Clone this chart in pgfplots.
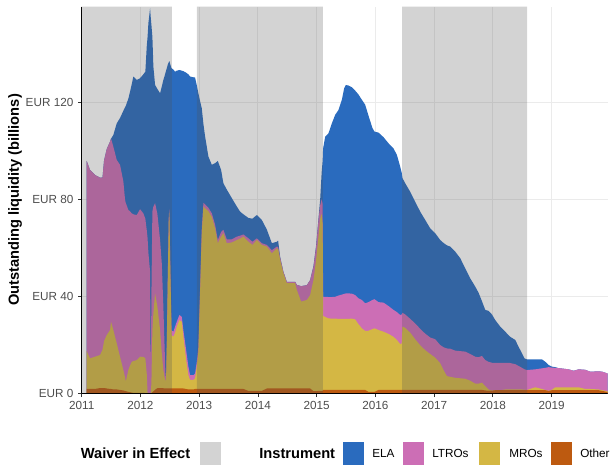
\documentclass[border=0pt]{standalone}
\usepackage{pgfplots}
\pgfplotsset{compat=1.18}
\usepackage{pgfplotstable}
\usepackage{fontspec}
\setmainfont{Liberation Sans}

\definecolor{ela}{RGB}{42,107,190}
\definecolor{ltro}{RGB}{204,110,181}
\definecolor{mro}{RGB}{212,183,68}
\definecolor{other}{RGB}{189,90,16}
\definecolor{waiver}{RGB}{80,80,80}
\definecolor{waiverkey}{RGB}{211,211,211}
\definecolor{gridc}{RGB}{235,235,235}
\definecolor{ticktext}{RGB}{77,77,77}

% Outstanding liquidity by instrument, EUR billions
\pgfplotstableread{
year     other mro  ltro ela
2011.085 1.8 15.6 78.4 0
2011.141 1.8 12.6 77.7 0
2011.227 1.8 13.3 74.9 0
2011.312 2.2 13.6 73.1 0
2011.354 2.2 15.8 71.0 0
2011.380 2.2 19.3 74.5 0
2011.426 2.0 22.0 76.7 0
2011.482 1.8 24.3 77.7 0
2011.499 1.8 27.7 75.5 0
2011.538 1.6 24.5 75.6 4.8
2011.596 1.6 19.0 75.6 15.1
2011.652 1.4 13.7 79.1 19.3
2011.709 1.2 8.4 77.7 29.2
2011.738 1.0 5.5 73.2 38.3
2011.750 0.9 3.9 73.7 40.0
2011.794 0.6 9.0 66.0 45.9
2011.823 0.5 11.0 63.5 49.4
2011.852 0.3 12.7 61.2 53.3
2011.879 0.2 13.1 60.5 56.8
2011.937 0.2 13.5 59.8 55.7
2011.993 0.2 14.9 60.8 54.0
2012.049 0.2 14.8 59.2 57.3
2012.083 0.1 14.4 57.5 60.6
2012.107 0 8.0 59.3 75.7
2012.121 0 0 64.0 83.0
2012.135 0 0 58.0 94.6
2012.164 0 0 50.1 108.7
2012.175 0 0 2.0 153.0
2012.186 0 4.0 36.0 112.0
2012.203 0.5 25.6 48.9 72.0
2012.220 0.8 32.2 44.0 57.7
2012.249 1.5 39.7 37.2 48.7
2012.288 2.1 33.6 38.3 51.5
2012.334 2.1 24.0 37.1 60.5
2012.363 2.1 14.4 37.1 72.9
2012.390 2.1 7.5 26.1 93.5
2012.407 2.0 5.0 15.0 108.5
2012.424 2.0 3.5 3.5 123.0
2012.436 2.0 3.0 0.5 127.5
2012.448 2.0 17.2 2.8 112.0
2012.465 2.0 44.7 1.3 87.5
2012.482 2.0 69.5 1.5 63.5
2012.492 2.0 72.9 1.1 61.0
2012.509 2.0 48.0 2.0 83.5
2012.530 2.0 22.0 2.0 108.0
2012.560 2.0 21.3 2.1 108.1
2012.589 2.0 23.0 2.5 105.1
2012.618 2.0 25.5 2.0 103.5
2012.663 2.0 28.2 2.1 101.0
2012.704 2.0 27.5 2.0 101.5
2012.731 2.0 21.3 2.7 106.8
2012.777 1.8 12.2 4.0 114.2
2012.816 1.6 5.9 3.5 120.5
2012.845 1.6 3.9 2.0 123.1
2012.901 1.6 3.9 2.0 122.8
2012.930 1.8 4.4 2.0 122.0
2012.959 1.8 9.2 2.0 114.0
2012.986 1.8 15.2 2.0 104.7
2013.015 1.8 39.4 1.8 77.5
2013.044 1.8 64.2 2.0 49.5
2013.072 1.8 75.2 1.5 32.5
2013.101 1.8 74.5 1.6 27.9
2013.157 1.8 73.3 1.4 21.1
2013.215 1.8 70.9 1.5 20.0
2013.271 1.8 66.2 1.5 25.4
2013.317 1.8 60.1 1.3 32.6
2013.373 1.8 62.8 1.9 25.6
2013.412 1.8 64.2 1.4 19.2
2013.470 1.8 60.1 1.6 20.5
2013.555 1.8 60.4 1.3 17.0
2013.641 1.8 61.4 1.4 12.4
2013.697 1.8 62.0 1.2 9.9
2013.753 1.8 62.8 0.9 8.3
2013.838 1.0 61.5 1.4 8.4
2013.906 1.0 60.2 1.3 9.5
2013.981 1.0 62.2 0.7 9.6
2014.066 1.0 60.2 0.7 9.6
2014.152 2.0 58.5 0.7 6.3
2014.237 2.0 55.7 1.3 2.9
2014.322 2.0 57.8 0.7 2.0
2014.344 2.0 57.5 0.8 2.7
2014.378 2.0 53.0 1.0 0.3
2014.434 2.0 47.5 0.6 0
2014.492 2.0 43.4 0.6 0
2014.634 2.0 43.4 0.6 0
2014.663 2.0 40.6 2.1 0
2014.736 2.0 35.8 6.4 0
2014.833 2.0 36.5 6.1 0
2014.889 2.0 38.5 6.2 0
2014.946 0.9 45.8 5.5 0.3
2014.991 0.9 54.1 5.5 0.5
2015.031 1.0 63.6 6.9 0.5
2015.060 1.0 71.0 5.5 2.5
2015.085 1.0 73.0 6.0 11.0
2015.102 1.0 69.0 8.0 18.0
2015.110 1.4 30.5 7.9 61.2
2015.145 1.4 30.1 8.3 66.0
2015.201 1.4 29.5 8.8 67.5
2015.259 1.4 29.4 8.9 71.6
2015.315 1.4 29.4 9.0 75.0
2015.371 1.4 29.3 9.6 76.5
2015.429 1.4 29.3 10.0 80.3
2015.469 1.4 29.3 10.3 84.8
2015.497 1.4 29.3 10.5 85.9
2015.542 1.4 29.3 10.5 85.7
2015.600 1.4 29.4 10.3 85.1
2015.656 1.4 29.1 10.0 84.3
2015.712 1.4 27.1 10.7 84.0
2015.770 1.4 25.4 11.7 82.5
2015.826 1.4 24.3 11.4 81.9
2015.882 0.6 25.2 11.8 76.9
2015.951 0.6 25.9 12.0 70.8
2015.985 0.6 26.2 12.0 69.1
2016.053 1.4 24.7 11.5 69.9
2016.138 1.4 24.0 12.0 68.2
2016.223 1.4 23.1 11.5 67.1
2016.308 1.4 21.9 11.1 66.6
2016.366 1.4 20.6 11.5 64.8
2016.422 1.4 18.9 12.0 61.2
2016.448 1.4 19.1 12.0 58.5
2016.462 1.4 26.1 5.7 55.5
2016.508 1.4 25.6 5.5 54.1
2016.593 1.4 23.6 5.7 52.4
2016.678 1.4 20.9 6.5 50.2
2016.763 1.4 18.4 6.8 48.3
2016.848 1.4 16.4 6.8 46.9
2016.934 1.4 14.8 6.8 45.0
2017.019 1.4 13.3 7.6 43.7
2017.104 1.4 11.0 7.5 43.3
2017.160 1.4 8.2 9.4 43.0
2017.218 1.4 5.7 11.4 42.5
2017.274 1.4 5.4 11.6 42.1
2017.360 1.4 5.0 11.2 40.8
2017.445 1.4 4.8 11.2 38.3
2017.530 1.4 4.6 11.2 34.3
2017.615 1.4 3.8 11.0 31.2
2017.700 1.4 2.6 11.1 28.9
2017.756 1.4 2.6 10.9 26.6
2017.814 1.4 3.0 11.0 22.6
2017.871 1.2 1.8 10.7 20.7
2017.927 1.1 0.5 11.4 21.0
2017.985 1.1 0 11.5 19.9
2018.041 1.3 0 11.3 17.6
2018.126 1.3 0 11.3 14.9
2018.211 1.3 0.3 11.0 12.8
2018.296 1.3 0.3 10.9 10.8
2018.382 1.3 0.3 10.4 10.0
2018.438 1.3 0.3 9.7 7.9
2018.496 1.3 0.3 8.9 6.0
2018.540 1.3 0.2 8.4 4.5
2018.581 1.3 0.1 8.2 4.4
2018.722 1.3 1.2 7.4 4.1
2018.836 1.3 0.5 8.5 3.7
2018.893 1.3 0.1 9.1 2.5
2018.949 1.0 0 9.8 0.9
2019.007 1.3 0.2 9.1 0.4
2019.063 1.3 1.2 8.0 0.3
2019.119 1.3 1.2 7.9 0
2019.290 1.3 1.2 7.4 0
2019.375 1.3 1.2 6.8 0
2019.460 1.3 1.2 7.4 0
2019.574 1.3 0.5 7.9 0
2019.659 1.3 0.5 7.1 0
2019.801 1.3 0.3 7.5 0
2019.864 1.0 0.3 7.6 0
2019.954 0.5 0.3 7.4 0
}\liquidity

\begin{document}
\begin{tikzpicture}
\useasboundingbox (-61.3pt,-59pt) rectangle (400.7pt,295pt);
\begin{axis}[
  at={(0,0)}, anchor=south west,
  scale only axis, width=394.4pt, height=290pt,
  xmin=2011, xmax=2019.954, ymin=0, ymax=159.4,
  enlargelimits=false,
  axis lines*=left,
  axis line style={black, line width=0.6pt},
  xtick={2011,2012,2013,2014,2015,2016,2017,2018,2019},
  xticklabels={2011,2012,2013,2014,2015,2016,2017,2018,2019},
  ytick={0,40,80,120},
  yticklabels={EUR 0,EUR 40,EUR 80,EUR 120},
  tick align=outside, major tick length=2.75pt,
  tick style={color=black!80, line width=0.6pt},
  ticklabel style={font=\fontsize{8.8}{10}\selectfont, text=ticktext},
  grid=major, major grid style={gridc, line width=0.8pt},
  clip=true,
]
% cumulative layers, painted from the top of the stack downwards
\addplot[draw=none, fill=ela] table[x=year, y expr=\thisrow{other}+\thisrow{mro}+\thisrow{ltro}+\thisrow{ela}] {\liquidity} \closedcycle;
\addplot[draw=none, fill=ltro] table[x=year, y expr=\thisrow{other}+\thisrow{mro}+\thisrow{ltro}] {\liquidity} \closedcycle;
\addplot[draw=none, fill=mro] table[x=year, y expr=\thisrow{other}+\thisrow{mro}] {\liquidity} \closedcycle;
\addplot[draw=none, fill=other] table[x=year, y=other] {\liquidity} \closedcycle;
% periods with the waiver in effect
\addplot[draw=none, fill=waiver, fill opacity=0.25] coordinates {(2011,0) (2011,159.4) (2012.535,159.4) (2012.535,0)} \closedcycle;
\addplot[draw=none, fill=waiver, fill opacity=0.25] coordinates {(2012.962,0) (2012.962,159.4) (2015.106,159.4) (2015.106,0)} \closedcycle;
\addplot[draw=none, fill=waiver, fill opacity=0.25] coordinates {(2016.455,0) (2016.455,159.4) (2018.584,159.4) (2018.584,0)} \closedcycle;
% axis lines over the filled areas
\draw[black, line width=0.6pt] (rel axis cs:0,1) -- (rel axis cs:0,0) -- (rel axis cs:1,0);
\end{axis}

\node[rotate=90, font=\bfseries\fontsize{11}{13}\selectfont] at (-50pt,145pt) {Outstanding liquidity (billions)};

% legend
\begin{scope}[every node/.style={inner sep=0pt, anchor=west}]
\node[font=\bfseries\fontsize{11}{13}\selectfont] at (-0.9pt,-44.9pt) {Waiver in Effect};
\fill[waiverkey] (88.7pt,-53.5pt) rectangle (104.5pt,-36.3pt);
\node[font=\bfseries\fontsize{11}{13}\selectfont] at (133pt,-44.9pt) {Instrument};
\fill[ela] (196pt,-53.5pt) rectangle (211.7pt,-36.3pt);
\node[font=\fontsize{8.8}{10}\selectfont] at (217.7pt,-44.9pt) {ELA};
\fill[ltro] (241pt,-53.5pt) rectangle (256.7pt,-36.3pt);
\node[font=\fontsize{8.8}{10}\selectfont] at (262.7pt,-44.9pt) {LTROs};
\fill[mro] (298pt,-53.5pt) rectangle (313.7pt,-36.3pt);
\node[font=\fontsize{8.8}{10}\selectfont] at (320.5pt,-44.9pt) {MROs};
\fill[other] (352pt,-53.5pt) rectangle (367.7pt,-36.3pt);
\node[font=\fontsize{8.8}{10}\selectfont] at (373.7pt,-44.9pt) {Other};
\end{scope}
\end{tikzpicture}
\end{document}
